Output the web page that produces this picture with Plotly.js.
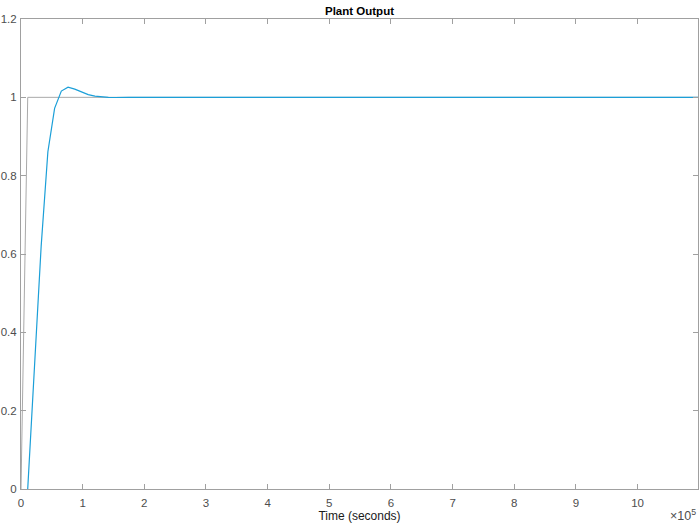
<!DOCTYPE html>
<html>
<head>
<meta charset="utf-8">
<script src="https://cdn.plot.ly/plotly-3.0.1.min.js"></script>
<style>html,body{margin:0;padding:0;background:#fff;}#chart{width:699px;height:526px;}</style>
</head>
<body>
<div id="chart"></div>
<script>
// Reference (step input) signal
var refTime = [0, 10900, 1098000];
var refValue = [0, 1, 1];

// Plant output samples
var outTime = [10900, 21800, 32700, 43600, 54500, 65400, 76300, 87200, 98100, 109000, 119900, 130800, 141700, 152600, 163500, 174400, 1098000];
var outValue = [0, 0.31, 0.62, 0.861, 0.972, 1.016, 1.026, 1.021, 1.014, 1.007, 1.003, 1.0008, 0.9998, 0.9996, 0.9998, 1.0, 1.0];

var xTickVals = [0, 100000, 200000, 300000, 400000, 500000, 600000, 700000, 800000, 900000, 1000000];
var xTickText = ['0', '1', '2', '3', '4', '5', '6', '7', '8', '9', '10'];
var yTickVals = [0, 0.2, 0.4, 0.6, 0.8, 1, 1.2];
var yTickText = ['0', '0.2', '0.4', '0.6', '0.8', '1', '1.2'];

var traces = [
  {x: refTime, y: refValue, mode: 'lines', line: {color: '#a9a9a9', width: 1}, hoverinfo: 'skip'},
  {x: outTime, y: outValue, mode: 'lines', line: {color: '#1b9fd8', width: 1.2}, hoverinfo: 'skip'}
];

var axisColor = '#a0a0a0';
var layout = {
  width: 699, height: 526,
  margin: {l: 21, r: 1, t: 19, b: 37, pad: 0},
  paper_bgcolor: '#ffffff', plot_bgcolor: '#ffffff',
  showlegend: false,
  font: {family: 'Liberation Sans, Arial, sans-serif', size: 11, color: '#4d4d4d'},
  title: {text: '<b>Plant Output</b>', font: {family: 'Liberation Sans, Arial, sans-serif', size: 11.5, color: '#000000'},
          x: 0.5, xref: 'paper', xanchor: 'center', y: 1 - 11/526, yref: 'container', yanchor: 'middle'},
  xaxis: {
    range: [0, 1098000], tickmode: 'array', tickvals: xTickVals, ticktext: xTickText,
    ticks: 'inside', ticklen: 5, tickcolor: axisColor, tickwidth: 1,
    showline: true, linecolor: axisColor, linewidth: 1, mirror: 'ticks',
    showgrid: false, zeroline: false, ticklabelstandoff: 3,
    tickfont: {size: 11.5, color: '#4d4d4d'},
    title: {text: 'Time (seconds)', font: {size: 12, color: '#1a1a1a'}, standoff: 2}
  },
  yaxis: {
    range: [0, 1.2], tickmode: 'array', tickvals: yTickVals, ticktext: yTickText,
    ticks: 'inside', ticklen: 5, tickcolor: axisColor, tickwidth: 1,
    showline: true, linecolor: axisColor, linewidth: 1, mirror: 'ticks',
    showgrid: false, zeroline: false, ticklabelstandoff: 1,
    tickfont: {size: 11.5, color: '#4d4d4d'}
  },
  annotations: [
    {text: '×10<sup>5</sup>', xref: 'paper', yref: 'paper', x: 1.0, y: -0.076, xanchor: 'right', yanchor: 'bottom',
     showarrow: false, font: {size: 12.5, color: '#4d4d4d'}}
  ]
};

Plotly.newPlot('chart', traces, layout, {staticPlot: true, displayModeBar: false});
</script>
</body>
</html>
